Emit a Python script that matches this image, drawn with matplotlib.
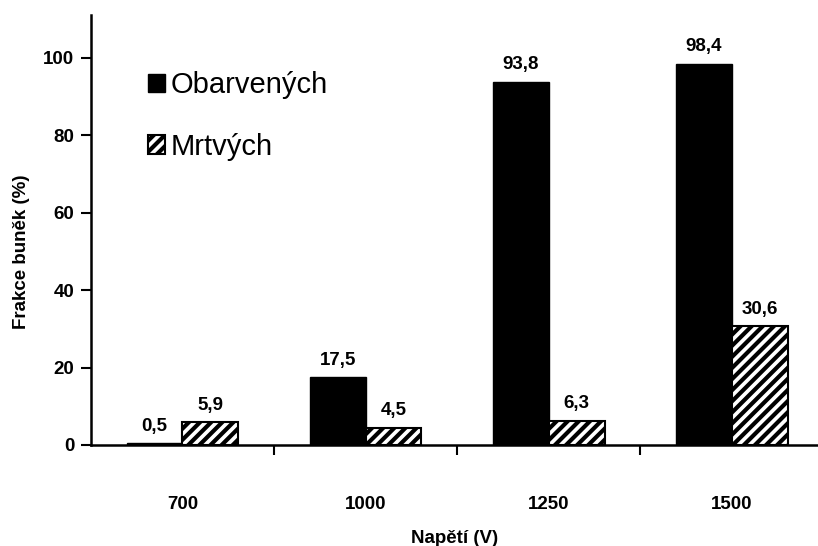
import numpy as np
import matplotlib.pyplot as plt

napeti = ['700', '1000', '1250', '1500']
obarvenych = [0.5, 17.5, 93.8, 98.4]
mrtvych = [5.9, 4.5, 6.3, 30.6]

plt.rcParams['font.family'] = ['Liberation Sans', 'DejaVu Sans']
plt.rcParams['hatch.linewidth'] = 3.0

fig = plt.figure(figsize=(8.18, 5.46), dpi=100)
ax = fig.add_axes([0.111, 0.185, 0.889, 0.7875])

x = np.arange(len(napeti))
w = 0.305
b1 = ax.bar(x - w / 2, obarvenych, w, color='black', edgecolor='black', label='Obarvených')
b2 = ax.bar(x + w / 2, mrtvych, w, color='white', edgecolor='black', hatch='///',
            linewidth=1.5, label='Mrtvých')

for bars, vals in ((b1, obarvenych), (b2, mrtvych)):
    for r, v in zip(bars, vals):
        ax.text(r.get_x() + r.get_width() / 2, v + 2.2, f'{v:.1f}'.replace('.', ','),
                ha='center', va='bottom', fontsize=13.5, fontweight='bold')

ax.set_xlim(-0.5, 3.47)
ax.set_ylim(0, 111)
ax.set_yticks([0, 20, 40, 60, 80, 100])
ax.set_xticks(x)
ax.set_xticklabels(napeti)
ax.tick_params(axis='x', length=0, pad=37)
ax.set_xticks(x[1:] - 0.5, minor=True)
ax.tick_params(axis='x', which='minor', length=7, width=1.5, direction='out')
ax.tick_params(axis='y', length=7, width=1.5, direction='out', pad=5)
for lbl in ax.get_xticklabels() + ax.get_yticklabels():
    lbl.set_fontweight('bold')
    lbl.set_fontsize(13.5)

ax.spines['top'].set_visible(False)
ax.spines['right'].set_visible(False)
ax.spines['left'].set_linewidth(1.8)
ax.spines['bottom'].set_linewidth(1.8)

ax.set_ylabel('Frakce buněk (%)', fontsize=13.5, fontweight='bold')
ax.yaxis.set_label_coords(-0.084, 0.45)
ax.set_xlabel('Napětí (V)', fontsize=13.5, fontweight='bold', labelpad=12)

ax.legend(loc='upper left', bbox_to_anchor=(0.042, 0.93), frameon=False, fontsize=21,
          handlelength=0.6, handleheight=0.6, handletextpad=0.2, labelspacing=1.15)

fig.savefig('out.png', dpi=100)
